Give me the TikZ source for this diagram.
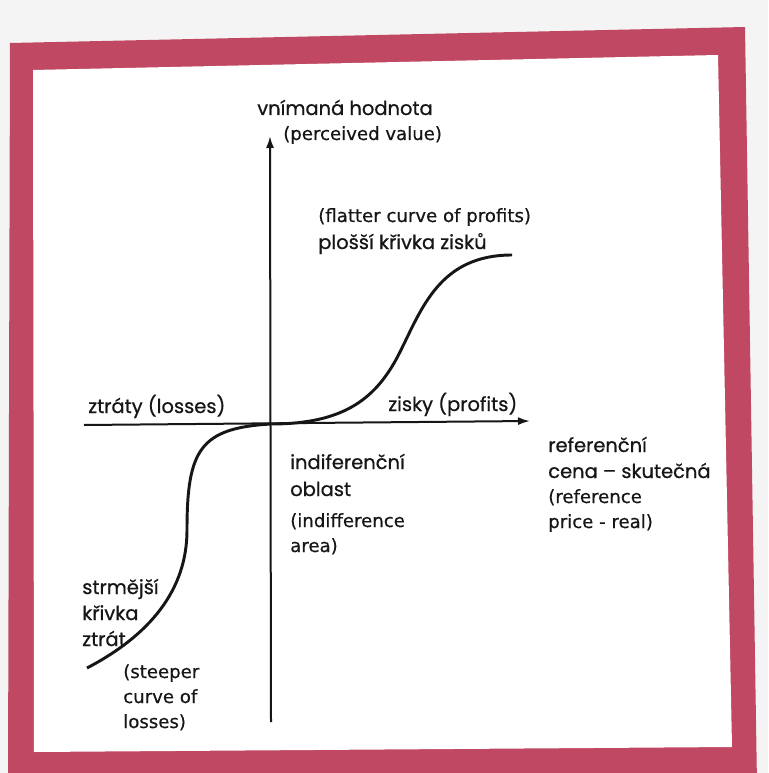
\documentclass[tikz,border=0pt]{standalone}
\usepackage{fontspec}
\setmainfont{DejaVu Sans}
\newfontfamily\czfont{Poppins}[FakeBold=0.7]
\newfontfamily\enfont{DejaVu Sans}[FakeBold=0.5]
\usetikzlibrary{arrows.meta}
\definecolor{framered}{RGB}{192,72,98}
\definecolor{pagegray}{RGB}{244,244,244}
\definecolor{ink}{RGB}{22,22,22}
\tikzset{
  axisline/.style={line width=1.5pt, draw=ink, -{Latex[length=9pt,width=6pt]}},
  valuecurve/.style={line width=2.2pt, draw=ink},
  cz/.style={font=\czfont\fontsize{14.6}{19}\selectfont, text=ink, inner sep=0pt, anchor=base west},
  en/.style={font=\enfont\fontsize{13.6}{19}\selectfont, text=ink, inner sep=0pt, anchor=base west},
}
\begin{document}
\begin{tikzpicture}[x=0.75pt, y=-0.75pt]
\useasboundingbox (0,0) rectangle (768,773);
% page and frame
\fill[pagegray] (0,0) rectangle (768,773);
\fill[framered] (10,43) -- (745,27) -- (757,785) -- (8,785) -- cycle;
\fill[white] (33,70) -- (718,55) -- (732,747) -- (34,752) -- cycle;
% axes
\coordinate (O) at (271,424);
\coordinate (xl) at (84,425);
\coordinate (xr) at (530,421);
\coordinate (yb) at (271,722);
\coordinate (yt) at (270,136);
\draw[axisline] (xl) -- (xr);
\draw[axisline] (yb) -- (yt);
% value curve
\coordinate (lend) at (87,668);
\coordinate (lmid) at (187,530);
\coordinate (rmid) at (400,352);
\coordinate (rend) at (512,255);
\draw[valuecurve] (lend) .. controls (150,635) and (187,590) .. (lmid)
  .. controls (187,450) and (200,428) .. (O)
  .. controls (345,424) and (377,398) .. (rmid)
  .. controls (422,308) and (440,255) .. (rend);
% labels
\node[cz] (yl1) at (257,115) {vnímaná hodnota};
\node[en] (yl2) at (283,140) {(perceived value)};
\node[en] (pr1) at (318,222) {(flatter curve of profits)};
\node[cz] (pr2) at (318,249) {plošší křivka zisků};
\node[cz] (loss) at (88,413) {ztráty (losses)};
\node[cz] (prof) at (388,411) {zisky (profits)};
\node[cz] (rf1) at (548,452) {referenční};
\node[cz] (rf2) at (548,478) {cena – skutečná};
\node[en] (rf3) at (548,503) {(reference};
\node[en] (rf4) at (548,528) {price - real)};
\node[cz] (in1) at (290,469) {indiferenční};
\node[cz] (in2) at (290,496) {oblast};
\node[en] (in3) at (290,527) {(indifference};
\node[en] (in4) at (290,552) {area)};
\node[cz] (st1) at (82,594) {strmější};
\node[cz] (st2) at (82,620) {křivka};
\node[cz] (st3) at (82,646) {ztrát};
\node[en] (st4) at (123,678) {(steeper};
\node[en] (st5) at (123,703) {curve of};
\node[en] (st6) at (123,728) {losses)};
\end{tikzpicture}
\end{document}
